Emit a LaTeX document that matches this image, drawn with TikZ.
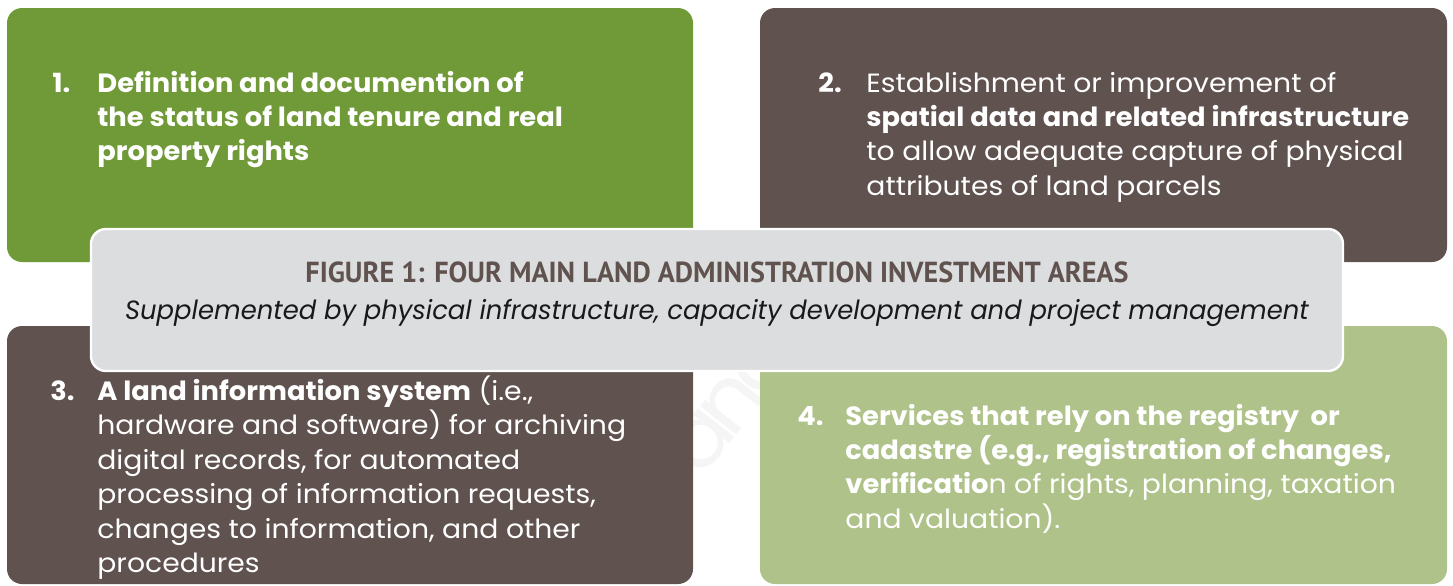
\documentclass[tikz,border=0pt]{standalone}
\usepackage{fontspec}
\setmainfont{Poppins}[UprightFeatures={FakeStretch=1.07},
  BoldFeatures={FakeStretch=1.035}, ItalicFeatures={FakeStretch=0.98}]
\newfontfamily\titlefont[FakeStretch=0.97]{PT Sans}
\usetikzlibrary{positioning}
\definecolor{leafGreen}{HTML}{6F9A37}
\definecolor{barkBrown}{HTML}{5F524F}
\definecolor{sageGreen}{HTML}{AFC28A}
\definecolor{paleGray}{HTML}{DCDDDF}
\definecolor{inkBlack}{gray}{0.1}

\tikzset{
  area/.style={rounded corners=7.5pt},
  body/.style={text=white, inner sep=0pt, anchor=base west,
    font=\fontsize{13.2}{17.2}\selectfont},
  banner/.style={rounded corners=7.5pt, fill=paleGray, draw=white, line width=1.2pt},
  markletter/.style={rotate=52, text=gray!8, inner sep=0pt, text height=22pt, text depth=0pt,
    font=\fontsize{42}{42}\selectfont}
}
\newcommand{\lines}[1]{\begin{tabular}[t]{@{}l@{}}#1\end{tabular}}

\begin{document}
\begin{tikzpicture}[x=0.5pt, y=-0.5pt]
    \useasboundingbox (0,0) rectangle (1453,585);

    % faint watermark, only seen in the gap between the lower boxes
    \begin{scope}
      \clip (693,371) rectangle (760,585);
      \node[markletter] (markA) at (703,442) {a};
      \node[markletter] (markN) at (733,404) {n};
      \node[markletter] (markC) at (762,366) {c};
    \end{scope}

    % the four investment areas
    \fill[area, leafGreen] (7,8) rectangle (693,262);
    \fill[area, barkBrown] (760,8) rectangle (1447,262);
    \fill[area, barkBrown] (7,326) rectangle (693,584);
    \fill[area, sageGreen] (760,326) rectangle (1447,584);

    % area 1
    \node[body] (n1) at (52,92) {\textbf{1.}};
    \node[body] (t1) at (97,92) {\lines{\textbf{Definition and documention of}\\
      \textbf{the status of land tenure and real}\\
      \textbf{property rights}}};

    % area 2
    \node[body] (n2) at (818,92) {\textbf{2.}};
    \node[body] (t2) at (866,92) {\lines{Establishment or improvement of\\
      \textbf{spatial data and related infrastructure}\\
      to allow adequate capture of physical\\
      attributes of land parcels}};

    % area 3
    \node[body] (n3) at (50,400) {\textbf{3.}};
    \node[body] (t3) at (97,400) {\lines{\textbf{A land information system} (i.e.,\\
      hardware and software) for archiving\\
      digital records, for automated\\
      processing of information requests,\\
      changes to information, and other\\
      procedures}};

    % area 4
    \node[body] (n4) at (797,425) {\textbf{4.}};
    \node[body] (t4) at (845,425) {\lines{\textbf{Services that rely on the registry\ \ or}\\
      \textbf{cadastre (e.g., registration of changes,}\\
      \textbf{verificatio}n of rights, planning, taxation\\
      and valuation).}};

    % caption banner across the middle
    \fill[banner] (91,229) rectangle (1343,371);
    \node[text=barkBrown, inner sep=0pt, anchor=base,
      font=\titlefont\bfseries\fontsize{14.5}{17}\selectfont] (title) at (717,282)
      {FIGURE 1: FOUR MAIN LAND ADMINISTRATION INVESTMENT AREAS};
    \node[text=inkBlack, inner sep=0pt, anchor=base,
      font=\itshape\fontsize{13.2}{17}\selectfont] (subtitle) at (717,319)
      {Supplemented by physical infrastructure, capacity development and project management};
\end{tikzpicture}
\end{document}
